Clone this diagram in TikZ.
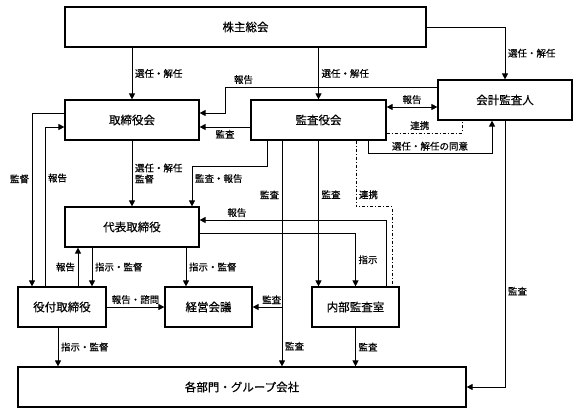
\documentclass[tikz,border=0pt]{standalone}
\usepackage{fontspec}
\newfontfamily\jpfont[BoldFont=Noto Sans CJK JP,BoldFeatures={FakeBold=0.35}]{Noto Sans CJK JP}
\usetikzlibrary{arrows.meta}

\begin{document}
\begin{tikzpicture}[x=1pt,y=-1pt,
  box/.style={draw,line width=1.2pt,minimum height=40pt,inner sep=0pt,font=\jpfont\bfseries\fontsize{11.5}{13}\selectfont},
  lbl/.style={font=\jpfont\bfseries\fontsize{9.5}{11}\selectfont,inner sep=2.5pt},
  arr/.style={line width=1pt,-{Triangle[length=6pt,width=6pt]}},
  arrs/.style={line width=1pt,{Triangle[length=6pt,width=6pt]}-{Triangle[length=6pt,width=6pt]}},
  link/.style={line width=1pt,dash dot}]
  \useasboundingbox (0,0) rectangle (578,413);

  \node[box,minimum width=361pt] (kabu) at (245.5,27) {株主総会};
  \node[box,minimum width=134pt] (kaikei) at (505,100) {会計監査人};
  \node[box,minimum width=134pt] (torishimari) at (132,120) {取締役会};
  \node[box,minimum width=135pt] (kansa) at (318.5,120) {監査役会};
  \node[box,minimum width=134pt] (daihyo) at (132,227) {代表取締役};
  \node[box,minimum width=88pt] (yakutsuki) at (62,307) {役付取締役};
  \node[box,minimum width=87pt] (keiei) at (208.5,307) {経営会議};
  \node[box,minimum width=87pt] (naibu) at (355.5,307) {内部監査室};
  \node[box,minimum width=448pt] (kakubu) at (242,387) {各部門・グループ会社};

  \draw[arr] (kabu.south -| torishimari.north) -- node[lbl,right]{選任・解任} (torishimari.north);
  \draw[arr] (kabu.south -| kansa.north) -- node[lbl,right]{選任・解任} (kansa.north);
  \draw[arr] (kabu.east) -| node[lbl,right,pos=0.75]{選任・解任} (kaikei.north);
  \draw[arr] ([yshift=13pt]kaikei.west) -- (225,87) node[lbl,above right,xshift=6pt]{報告} -- (225,113) -- ([yshift=7pt]torishimari.east);
  \draw[arrs] ([yshift=13pt]kansa.east) -- node[lbl,above]{報告} ([yshift=-7pt]kaikei.west);
  \draw[arr] ([yshift=-7pt]kansa.west) -- node[lbl,below]{監査} ([yshift=-7pt]torishimari.east);
  \draw[link] ([yshift=-13pt]kansa.east) -| node[lbl,above,pos=0.22]{連携} ([xshift=-43pt]kaikei.south);
  \draw[arr] ([xshift=49.5pt]kansa.south) -- ++(0,13) -| node[lbl,above,pos=0.25]{選任・解任の同意} ([xshift=-13pt]kaikei.south);
  \draw[link] ([xshift=37.5pt]kansa.south) -- node[lbl,right,pos=0.82]{連携} ++(0,66) -| ([xshift=36.5pt]naibu.north);
  \draw[arr] (kansa.south) -- node[lbl,right,pos=0.37]{監査} (kansa.south |- naibu.north);
  \draw[arr] ([xshift=-36.5pt]kansa.south) coordinate (kb) -- node[lbl,left,pos=0.24]{監査} node[lbl,right,pos=0.91]{監査} (kb |- kakubu.north);
  \draw[arr] (kb |- keiei.east) -- node[lbl,above,pos=0.35]{監査} (keiei.east);
  \draw[arr] ([xshift=-51.5pt]kansa.south) -- ++(0,26) -| node[lbl,right,pos=0.65]{監査・報告} ([xshift=60pt]daihyo.north);

  \draw[arr] (torishimari.south) -- node[lbl,right,align=left]{選任・解任\\監督} (daihyo.north);
  \draw[arr] ([yshift=7pt]torishimari.west) -| node[lbl,left,pos=0.69]{監督} ([xshift=-30pt]yakutsuki.north);
  \draw[arr] ([xshift=-17pt]yakutsuki.north) |- node[lbl,right,pos=0.34]{報告} ([yshift=-7pt]torishimari.west);
  \draw[arr] ([xshift=16pt]yakutsuki.north) -- node[lbl,left]{報告} ([xshift=-54pt]daihyo.south);
  \draw[arr] ([xshift=-40pt]daihyo.south) -- node[lbl,right]{指示・監督} ([xshift=30pt]yakutsuki.north);
  \draw[arr] ([xshift=54pt]daihyo.south) -- node[lbl,right]{指示・監督} ([xshift=-22.5pt]keiei.north);
  \draw[arr] ([xshift=30.5pt]naibu.north) |- node[lbl,above,pos=0.9]{報告} ([yshift=7pt]daihyo.east);
  \draw[arr] ([yshift=-6pt]daihyo.east) -| node[lbl,right,pos=0.75]{指示} (naibu.north);
  \draw[arr] (yakutsuki.east) -- node[lbl,above]{報告・諮問} (keiei.west);
  \draw[arr] ([xshift=-4pt]yakutsuki.south) -- node[lbl,right]{指示・監督} ([xshift=-4pt]yakutsuki.south |- kakubu.north);
  \draw[arr] (naibu.south) -- node[lbl,right]{監査} (naibu.south |- kakubu.north);
  \draw[arr] (kaikei.south) |- node[lbl,right,pos=0.32]{監査} (kakubu.east);
\end{tikzpicture}
\end{document}
